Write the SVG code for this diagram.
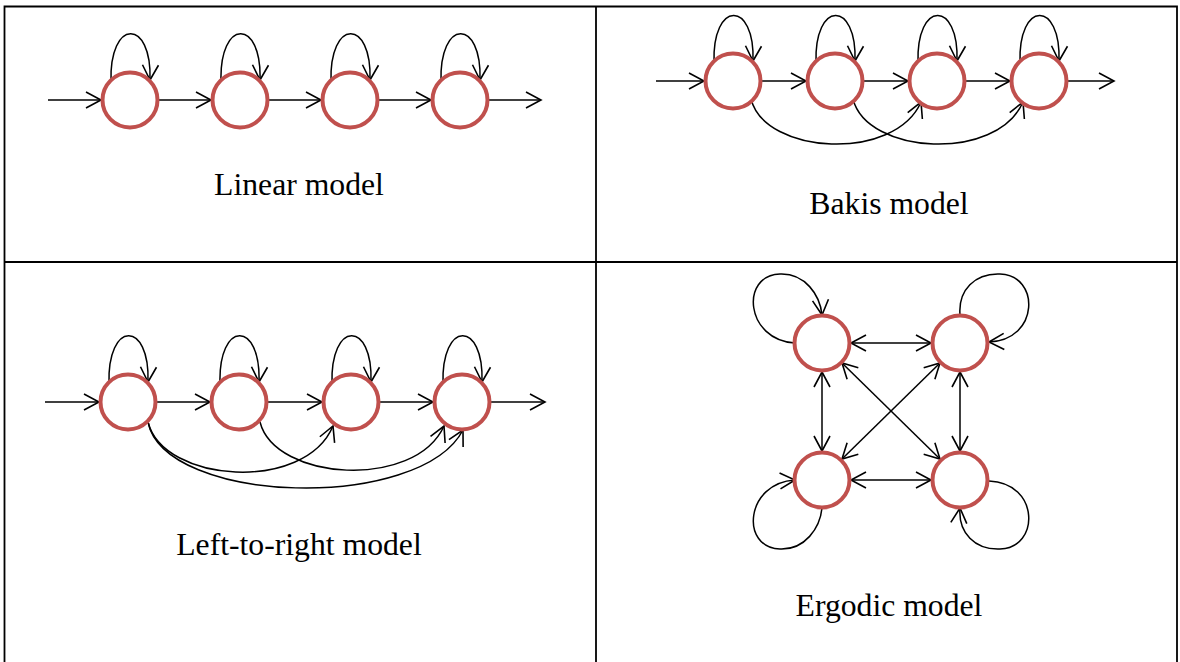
<svg xmlns="http://www.w3.org/2000/svg" width="1180" height="662" viewBox="0 0 1180 662">
<style>
.grid{stroke:#000;stroke-width:1.8;fill:none}
.st{fill:#fff;stroke:#C0504D;stroke-width:4}
.e{fill:none;stroke:#000;stroke-width:1.5;marker-end:url(#ah)}
.d{fill:none;stroke:#000;stroke-width:1.5;marker-end:url(#ah);marker-start:url(#ah)}
.lbl{font-family:"Liberation Serif","Times New Roman",serif;font-size:31.7px;fill:#000;text-anchor:middle}
</style>
<defs>
<marker id="ah" markerUnits="userSpaceOnUse" viewBox="0 0 20 20" markerWidth="20" markerHeight="20" refX="17" refY="10" orient="auto-start-reverse">
<path d="M2,2 L17,10 L2,18" fill="none" stroke="#000" stroke-width="1.6"/>
</marker>
</defs>
<rect width="1180" height="662" fill="#fff"/>
<g id="table">
<path class="grid" d="M4.5,662 V6.5 H1177 V662 M596,6.5 V662 M4.5,262 H1177"/>
</g>

<!-- Linear model -->
<g id="linear-connectors">
<path class="e" d="M48,100 H101"/>
<path class="e" d="M158,100 H211"/>
<path class="e" d="M268,100 H321"/>
<path class="e" d="M378,100 H431"/>
<path class="e" d="M488,100 H541"/>
<path class="e" d="M111,82 C109,18 152,18 150,80"/>
<path class="e" d="M221,82 C219,18 262,18 260,80"/>
<path class="e" d="M331,82 C329,18 372,18 370,80"/>
<path class="e" d="M441,82 C439,18 482,18 480,80"/>
</g>
<g id="linear-s1"><circle class="st" cx="130" cy="100" r="27.5"/></g>
<g id="linear-s2"><circle class="st" cx="240" cy="100" r="27.5"/></g>
<g id="linear-s3"><circle class="st" cx="350" cy="100" r="27.5"/></g>
<g id="linear-s4"><circle class="st" cx="460" cy="100" r="27.5"/></g>
<text class="lbl" x="299" y="195">Linear model</text>

<!-- Bakis model -->
<g id="bakis-connectors">
<path class="e" d="M656,81 H704"/>
<path class="e" d="M761,81 H806"/>
<path class="e" d="M863,81 H908"/>
<path class="e" d="M965,81 H1010"/>
<path class="e" d="M1067,81 H1114"/>
<path class="e" d="M714,63 C712,0 755,0 753,61"/>
<path class="e" d="M816,63 C814,0 857,0 855,61"/>
<path class="e" d="M918,63 C916,0 959,0 957,61"/>
<path class="e" d="M1020,63 C1018,0 1061,0 1059,61"/>
<path class="e" d="M751,99 C765,155 895,162 921,102"/>
<path class="e" d="M853,99 C867,155 997,162 1023,102"/>
</g>
<g id="bakis-s1"><circle class="st" cx="733" cy="81" r="27.5"/></g>
<g id="bakis-s2"><circle class="st" cx="835" cy="81" r="27.5"/></g>
<g id="bakis-s3"><circle class="st" cx="937" cy="81" r="27.5"/></g>
<g id="bakis-s4"><circle class="st" cx="1039" cy="81" r="27.5"/></g>
<text class="lbl" x="889" y="214">Bakis model</text>

<!-- Left-to-right model -->
<g id="ltr-connectors">
<path class="e" d="M45,402 H99"/>
<path class="e" d="M156,402 H210"/>
<path class="e" d="M267,402 H322"/>
<path class="e" d="M379,402 H433"/>
<path class="e" d="M490,402 H545"/>
<path class="e" d="M109,384 C107,320 150,320 148,382"/>
<path class="e" d="M220,384 C218,320 261,320 259,382"/>
<path class="e" d="M332,384 C330,320 373,320 371,382"/>
<path class="e" d="M443,384 C441,320 484,320 482,382"/>
<path class="e" d="M148,422 C163,483 305,493 333,426"/>
<path class="e" d="M148,422 C165,505 420,512 463,430"/>
<path class="e" d="M260,422 C275,481 415,490 444,426"/>
</g>
<g id="ltr-s1"><circle class="st" cx="128" cy="402" r="27.5"/></g>
<g id="ltr-s2"><circle class="st" cx="239" cy="402" r="27.5"/></g>
<g id="ltr-s3"><circle class="st" cx="351" cy="402" r="27.5"/></g>
<g id="ltr-s4"><circle class="st" cx="462" cy="402" r="27.5"/></g>
<text class="lbl" x="299" y="555">Left-to-right model</text>

<!-- Ergodic model -->
<g id="ergodic-connectors">
<path class="d" d="M851,343 H931"/>
<path class="d" d="M851,480 H931"/>
<path class="d" d="M822,372 V451"/>
<path class="d" d="M960,372 V451"/>
<path class="d" d="M842,363 L940,459"/>
<path class="d" d="M940,363 L842,459"/>
<path class="e" d="M795,343 C745,340 740,275 780,274 C805,273 820,295 822,315"/>
<path class="e" d="M960,315 C958,290 975,273 1000,274 C1040,275 1040,340 989,342"/>
<path class="e" d="M822,508 C820,528 805,550 780,549 C740,548 745,483 795,480"/>
<path class="e" d="M989,481 C1040,483 1040,548 1000,549 C975,550 958,533 960,508"/>
</g>
<g id="ergodic-s1"><circle class="st" cx="822" cy="343" r="27.5"/></g>
<g id="ergodic-s2"><circle class="st" cx="960" cy="343" r="27.5"/></g>
<g id="ergodic-s3"><circle class="st" cx="822" cy="480" r="27.5"/></g>
<g id="ergodic-s4"><circle class="st" cx="960" cy="480" r="27.5"/></g>
<text class="lbl" x="889" y="616">Ergodic model</text>
</svg>
